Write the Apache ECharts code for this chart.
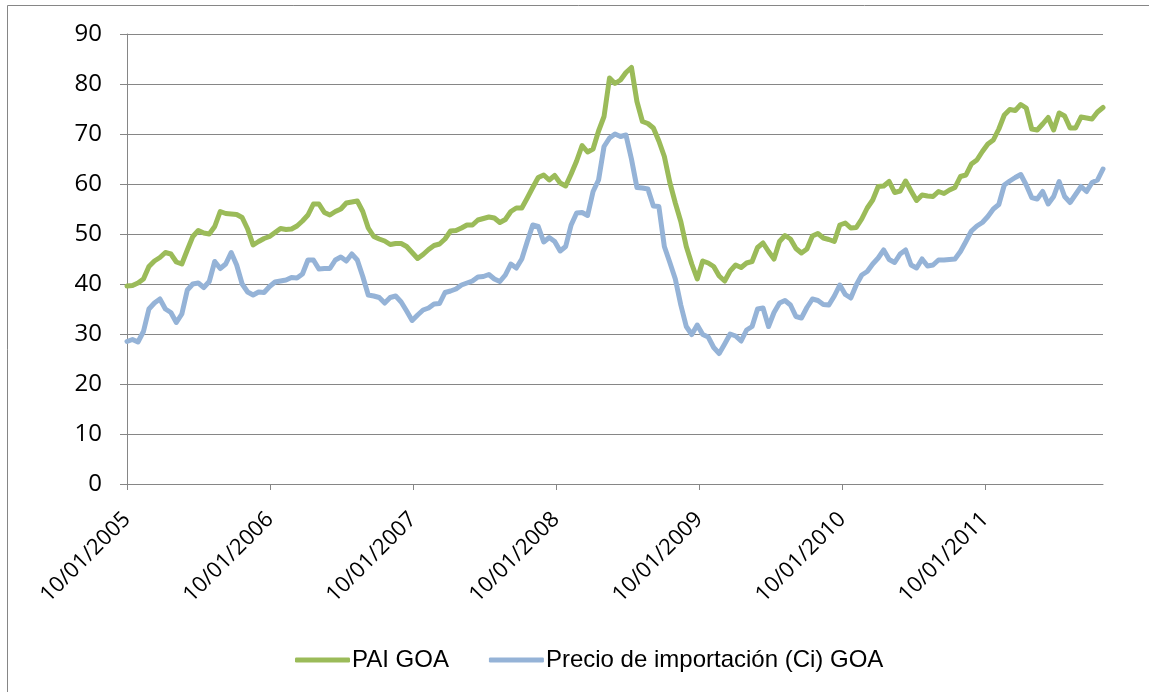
<!DOCTYPE html>
<html lang="es">
<head>
    <meta charset="UTF-8">
    <title>PAI GOA</title>
    <script src="https://cdn.jsdelivr.net/npm/echarts@6/dist/echarts.min.js"></script>
    <style>
        html, body { margin: 0; padding: 0; background: #fff; }
        #chart { width: 1149px; height: 692px; }
    </style>
</head>
<body>
<div id="chart"></div>

<script type="text/javascript">
    // serie quincenal desde el 10/01/2005
    var startDate = Date.UTC(2005, 0, 10)
    var stepDays = 14

    var paiGoa = [
        39.6, 39.7, 40.2, 41.0, 43.5, 44.6, 45.3, 46.3, 46.0, 44.4,
        44.0, 46.8, 49.5, 50.7, 50.2, 50.0, 51.5, 54.5, 54.1, 54.0,
        53.9, 53.3, 51.0, 47.8, 48.5, 49.1, 49.5, 50.3, 51.1, 50.9,
        51.0, 51.6, 52.6, 53.8, 56.0, 56.0, 54.3, 53.8, 54.5, 55.0,
        56.2, 56.4, 56.6, 54.5, 51.2, 49.5, 49.0, 48.6, 47.9, 48.1,
        48.1, 47.5, 46.3, 45.1, 45.9, 46.9, 47.7, 48.0, 49.0, 50.6,
        50.7, 51.2, 51.8, 51.8, 52.8, 53.1, 53.4, 53.2, 52.3, 52.9,
        54.5, 55.2, 55.2, 57.2, 59.3, 61.3, 61.8, 60.8, 61.7, 60.2,
        59.6, 62.0, 64.6, 67.7, 66.4, 67.0, 70.6, 73.5, 81.2, 80.1,
        80.8, 82.3, 83.3, 76.5, 72.5, 72.1, 71.2, 68.6, 65.5, 60.3,
        56.2, 52.5, 47.5, 44.0, 41.0, 44.6, 44.2, 43.5, 41.6, 40.6,
        42.6, 43.8, 43.3, 44.2, 44.5, 47.3, 48.2, 46.5, 45.0, 48.5,
        49.7, 49.0, 47.1, 46.2, 47.0, 49.6, 50.1, 49.2, 48.9, 48.5,
        51.8, 52.2, 51.2, 51.3, 53.0, 55.2, 56.8, 59.5, 59.6, 60.5,
        58.3, 58.6, 60.6, 58.6, 56.7, 57.8, 57.6, 57.5, 58.5, 58.1,
        58.8, 59.3, 61.5, 61.8, 64.0, 64.8, 66.5, 68.0, 68.8, 71.0,
        73.8, 74.9, 74.7, 75.9, 75.2, 71.0, 70.8, 72.0, 73.3, 70.8,
        74.2, 73.6, 71.2, 71.2, 73.4, 73.2, 73.0, 74.4, 75.3
    ]

    var precioImport = [
        28.5, 28.9, 28.4, 30.5, 35.0, 36.2, 37.0, 35.0, 34.3, 32.3,
        34.0, 38.8, 40.0, 40.2, 39.3, 40.5, 44.5, 43.1, 44.0, 46.3,
        43.8, 40.0, 38.4, 37.8, 38.4, 38.3, 39.5, 40.4, 40.6, 40.8,
        41.3, 41.2, 42.0, 44.8, 44.8, 43.0, 43.1, 43.1, 44.8, 45.4,
        44.6, 46.0, 44.8, 41.5, 37.8, 37.6, 37.3, 36.2, 37.3, 37.6,
        36.4, 34.6, 32.7, 33.8, 34.8, 35.2, 36.0, 36.1, 38.3, 38.6,
        39.0, 39.8, 40.2, 40.6, 41.4, 41.5, 41.9, 41.0, 40.5, 41.8,
        44.0, 43.2, 45.0, 48.5, 51.8, 51.5, 48.4, 49.3, 48.5, 46.6,
        47.5, 51.8, 54.2, 54.3, 53.7, 58.5, 60.8, 67.5, 69.2, 70.0,
        69.5, 69.8, 65.0, 59.3, 59.2, 59.0, 55.6, 55.5, 47.5, 44.3,
        41.0, 35.8, 31.5, 29.9, 31.8, 29.9, 29.4, 27.3, 26.1, 28.0,
        30.0, 29.6, 28.6, 30.8, 31.5, 35.0, 35.2, 31.5, 34.3, 36.2,
        36.7, 35.8, 33.5, 33.2, 35.3, 37.0, 36.7, 35.9, 35.8, 37.6,
        39.8, 37.9, 37.2, 39.8, 41.8, 42.5, 44.0, 45.2, 46.8, 44.9,
        44.3, 46.0, 46.8, 43.8, 43.2, 45.0, 43.6, 43.8, 44.8, 44.8,
        44.9, 45.0, 46.5, 48.5, 50.6, 51.6, 52.3, 53.5, 55.0, 55.9,
        59.8, 60.6, 61.3, 61.9, 59.8, 57.3, 57.0, 58.5, 56.0, 57.5,
        60.5, 57.5, 56.3, 57.9, 59.5, 58.5, 60.3, 60.8, 63.0
    ]

    var yearLabels = ['10/01/2005', '10/01/2006', '10/01/2007', '10/01/2008', '10/01/2009', '10/01/2010', '10/01/2011']

    var DAY = 86400000

    function parseDMY(s) {
        var p = s.split('/')
        return Date.UTC(+p[2], +p[1] - 1, +p[0])
    }

    // x en dias desde la fecha inicial (eje de valores)
    var yearTicks = yearLabels.map(function (s) { return Math.round((parseDMY(s) - startDate) / DAY) })
    var days = paiGoa.map(function (v, i) { return i * stepDays })

    function pairs(values) {
        return values.map(function (v, i) { return [days[i], v] })
    }

    var gridColor = '#868686'
    var labelFont = '"Open Sans", "DejaVu Sans", sans-serif'

    var myChart = echarts.init(document.getElementById('chart'), null, { renderer: 'canvas' })

    var option = {
        animation: false,
        backgroundColor: '#fff',
        graphic: [{
            type: 'rect',
            shape: { x: 7.5, y: 5.5, width: 1160, height: 710 },
            style: { fill: 'none', stroke: gridColor, lineWidth: 1 },
            silent: true
        }],
        grid: { left: 127, right: 46, top: 34, bottom: 208 },
        legend: {
            top: 643,
            left: 290,
            itemWidth: 55,
            itemHeight: 5,
            itemGap: 40,
            icon: 'roundRect',
            textStyle: { fontFamily: '"Liberation Sans", Arial, sans-serif', fontSize: 24, color: '#000', padding: [0, 0, 0, -3] },
            data: ['PAI GOA', 'Precio de importación (Ci) GOA']
        },
        xAxis: {
            type: 'value',
            min: 0,
            max: days[days.length - 1],
            axisLine: { onZero: false, lineStyle: { color: gridColor, width: 1 } },
            axisTick: { show: true, customValues: yearTicks, length: 6, lineStyle: { color: gridColor } },
            splitLine: { show: false },
            axisLabel: {
                customValues: yearTicks,
                rotate: 45,
                margin: 32,
                fontFamily: labelFont,
                fontSize: 22,
                color: '#000',
                formatter: function (value) {
                    var idx = yearTicks.indexOf(value)
                    return idx >= 0 ? yearLabels[idx] : ''
                }
            }
        },
        yAxis: {
            type: 'value',
            min: 0,
            max: 90,
            interval: 10,
            axisLine: { show: true, lineStyle: { color: gridColor, width: 1 } },
            axisTick: { show: true, length: 7, lineStyle: { color: gridColor } },
            splitLine: { lineStyle: { color: gridColor, width: 1 } },
            axisLabel: { margin: 25, fontFamily: labelFont, fontSize: 24, color: '#000' }
        },
        series: [
            {
                name: 'PAI GOA',
                type: 'line',
                showSymbol: false,
                symbol: 'none',
                color: '#9bbb59',
                lineStyle: { color: '#9bbb59', width: 5, cap: 'round', join: 'round' },
                data: pairs(paiGoa)
            },
            {
                name: 'Precio de importación (Ci) GOA',
                type: 'line',
                showSymbol: false,
                symbol: 'none',
                color: '#95b3d7',
                lineStyle: { color: '#95b3d7', width: 5, cap: 'round', join: 'round' },
                data: pairs(precioImport)
            }
        ]
    }

    myChart.setOption(option)
</script>
</body>
</html>
